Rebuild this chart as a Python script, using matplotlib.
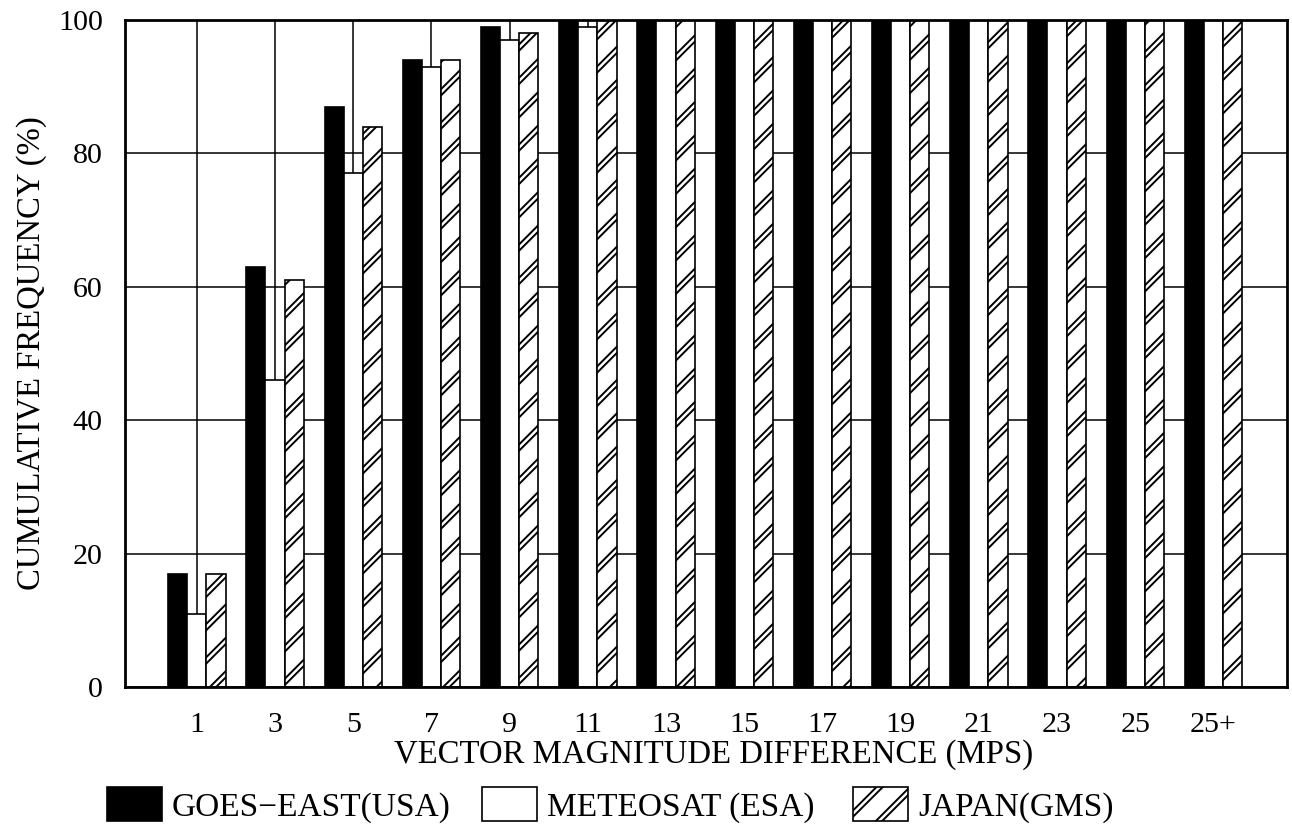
import matplotlib
matplotlib.use("Agg")
import matplotlib.pyplot as plt
import numpy as np
from matplotlib.patches import Patch
from matplotlib.legend_handler import HandlerTuple, HandlerPatch

# data
categories = ["1", "3", "5", "7", "9", "11", "13", "15", "17", "19", "21", "23", "25", "25+"]
goes_east = [17, 63, 87, 94, 99, 100, 100, 100, 100, 100, 100, 100, 100, 100]
meteosat = [11, 46, 77, 93, 97, 99, 100, 100, 100, 100, 100, 100, 100, 100]
japan = [17, 61, 84, 94, 98, 100, 100, 100, 100, 100, 100, 100, 100, 100]
series_names = ["GOES\u2212EAST(USA)", "METEOSAT (ESA)", "JAPAN(GMS)"]
y_ticks = [0, 20, 40, 60, 80, 100]

plt.rcParams['font.family'] = ['Liberation Serif', 'DejaVu Serif']

fig = plt.figure(figsize=(6.46, 4.16), dpi=200)
ax = fig.add_axes([0.0967, 0.1743, 0.8994, 0.8017])
ax.set_axisbelow(True)

x = np.arange(len(categories))
w = 0.245
lw = 0.6
hatch = '//'
hatch_thick = 2.3
hatch_thin = 0.9


def set_hlw(patches, value):
    for p in patches:
        if hasattr(p, 'set_hatch_linewidth'):
            p.set_hatch_linewidth(value)


class HatchHandler(HandlerPatch):
    # keep the hatch linewidth of the original patch on the legend copy
    def create_artists(self, legend, orig_handle, xdescent, ydescent, width, height, fontsize, trans):
        arts = super().create_artists(legend, orig_handle, xdescent, ydescent,
                                      width, height, fontsize, trans)
        if hasattr(orig_handle, 'get_hatch_linewidth'):
            set_hlw(arts, orig_handle.get_hatch_linewidth())
        return arts


ax.bar(x - w, goes_east, w, color='black', edgecolor='black', linewidth=lw)
ax.bar(x, meteosat, w, color='white', edgecolor='black', linewidth=lw)

# double-line hatch: thick black hatch, thin white hatch on top, then the outline
plt.rcParams['hatch.linewidth'] = hatch_thick
b1 = ax.bar(x + w, japan, w, color='white', edgecolor='black', linewidth=0, hatch=hatch)
set_hlw(b1, hatch_thick)
plt.rcParams['hatch.linewidth'] = hatch_thin
b2 = ax.bar(x + w, japan, w, color='none', edgecolor='white', linewidth=0, hatch=hatch)
set_hlw(b2, hatch_thin)
ax.bar(x + w, japan, w, color='none', edgecolor='black', linewidth=lw)

ax.set_xlim(-0.92, 13.94)
ax.set_ylim(0, 100)
ax.set_xticks(x)
ax.set_xticklabels(categories)
ax.set_yticks(y_ticks)
ax.tick_params(axis='both', length=0, labelsize=10.8)
ax.tick_params(axis='x', pad=9)
ax.tick_params(axis='y', pad=8)
ax.grid(True, color='black', linewidth=0.55)
for s in ax.spines.values():
    s.set_linewidth(1.0)

ax.set_xlabel("VECTOR MAGNITUDE DIFFERENCE (MPS)", fontsize=11.8)
ax.xaxis.set_label_coords(0.507, -0.079)
ax.set_ylabel("CUMULATIVE FREQUENCY (%)", fontsize=11.8)
ax.yaxis.set_label_coords(-0.067, 0.5)

# legend, one entry per box so each sits where the reference has it
h_black = Patch(facecolor='black', edgecolor='black', linewidth=lw)
h_white = Patch(facecolor='white', edgecolor='black', linewidth=lw)
hj1 = Patch(facecolor='white', edgecolor='black', linewidth=0, hatch=hatch)
set_hlw([hj1], hatch_thick)
hj2 = Patch(facecolor='none', edgecolor='white', linewidth=0, hatch=hatch)
set_hlw([hj2], hatch_thin)
hj3 = Patch(facecolor='none', edgecolor='black', linewidth=lw)
handles = [h_black, h_white, (hj1, hj2, hj3)]
anchors = [107 / 1292, 482 / 1292, 853 / 1292]
for h, name, ax_x in zip(handles, series_names, anchors):
    fig.legend([h], [name], loc='center left', bbox_to_anchor=(ax_x, 1 - 805 / 832),
               frameon=False, fontsize=12, borderpad=0, borderaxespad=0,
               handlelength=1.65, handleheight=1.2, handletextpad=0.3,
               handler_map={tuple: HandlerTuple(ndivide=1, pad=0),
                            Patch: HatchHandler()})

fig.savefig("out.png", dpi=200)
